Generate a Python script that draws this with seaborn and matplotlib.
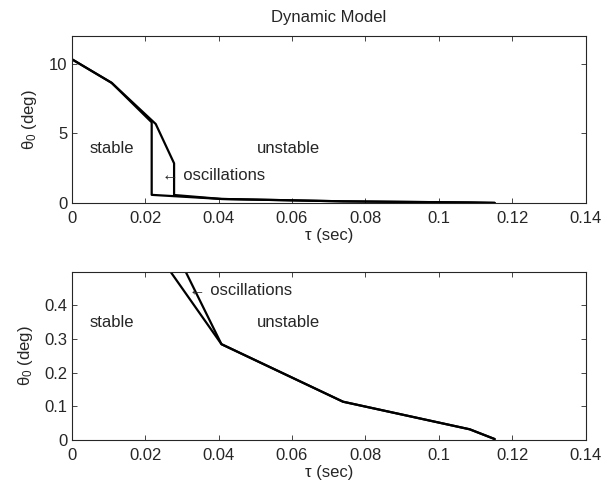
import numpy as np
import pandas as pd
import seaborn as sns
import matplotlib
matplotlib.use("Agg")
import matplotlib.pyplot as plt

# Stability boundary (lower curve) and oscillation boundary (upper curve)
tau_stable = [0.0, 0.0109, 0.0218, 0.0218, 0.0408, 0.0739, 0.1084, 0.1152]
theta_stable = [10.35, 8.64, 5.8, 0.58, 0.285, 0.114, 0.032, 0.003]

tau_osc = [0.0, 0.0109, 0.0229, 0.0279, 0.0279, 0.0408, 0.0739, 0.1084, 0.1152]
theta_osc = [10.35, 8.64, 5.68, 2.85, 0.57, 0.285, 0.114, 0.032, 0.003]

x_ticks = [0, 0.02, 0.04, 0.06, 0.08, 0.1, 0.12, 0.14]
x_tick_labels = ["0", "0.02", "0.04", "0.06", "0.08", "0.1", "0.12", "0.14"]

FS = 12

sns.set_style("ticks")
plt.rcParams["font.family"] = ["Liberation Sans", "DejaVu Sans"]
plt.rcParams["mathtext.fontset"] = "custom"
plt.rcParams["mathtext.rm"] = "Liberation Sans"
plt.rcParams["mathtext.it"] = "Liberation Sans"
plt.rcParams["font.size"] = FS

df_stable = pd.DataFrame({"tau": tau_stable, "theta": theta_stable})
df_osc = pd.DataFrame({"tau": tau_osc, "theta": theta_osc})

fig = plt.figure(figsize=(6.07, 4.82), dpi=100)
ax1 = fig.add_axes([0.118, 0.579, 0.847, 0.346])
ax2 = fig.add_axes([0.118, 0.087, 0.847, 0.349])


def draw(ax, ylim, yticks, ytick_labels):
    sns.lineplot(data=df_stable, x="tau", y="theta", ax=ax, sort=False,
                 color="black", linewidth=1.6, estimator=None)
    sns.lineplot(data=df_osc, x="tau", y="theta", ax=ax, sort=False,
                 color="black", linewidth=1.6, estimator=None)
    ax.set_xlim(0, 0.14)
    ax.set_ylim(*ylim)
    ax.set_xticks(x_ticks)
    ax.set_xticklabels(x_tick_labels)
    ax.set_yticks(yticks)
    ax.set_yticklabels(ytick_labels)
    ax.tick_params(direction="in", top=True, right=True, length=3.5,
                   width=0.6, labelsize=FS)
    ax.tick_params(axis="x", pad=6)
    ax.tick_params(axis="y", pad=3)
    for s in ax.spines.values():
        s.set_linewidth(0.8)
    ax.set_xlabel("τ (sec)", fontsize=FS, labelpad=1)
    ax.set_ylabel(r"θ$_0$ (deg)", fontsize=FS, labelpad=7)


draw(ax1, (0, 12), [0, 5, 10], ["0", "5", "10"])
ax1.set_title("Dynamic Model", fontsize=FS, pad=10)
ax1.text(0.0109, 3.95, "stable", ha="center", va="center", fontsize=FS)
ax1.text(0.059, 3.95, "unstable", ha="center", va="center", fontsize=FS)
ax1.text(0.0247, 1.94, "← oscillations", ha="left", va="center", fontsize=FS)

draw(ax2, (0, 0.5), [0, 0.1, 0.2, 0.3, 0.4], ["0", "0.1", "0.2", "0.3", "0.4"])
ax2.text(0.0109, 0.348, "stable", ha="center", va="center", fontsize=FS)
ax2.text(0.059, 0.348, "unstable", ha="center", va="center", fontsize=FS)
ax2.text(0.032, 0.446, "← oscillations", ha="left", va="center", fontsize=FS)

fig.savefig("out.png", dpi=100)
